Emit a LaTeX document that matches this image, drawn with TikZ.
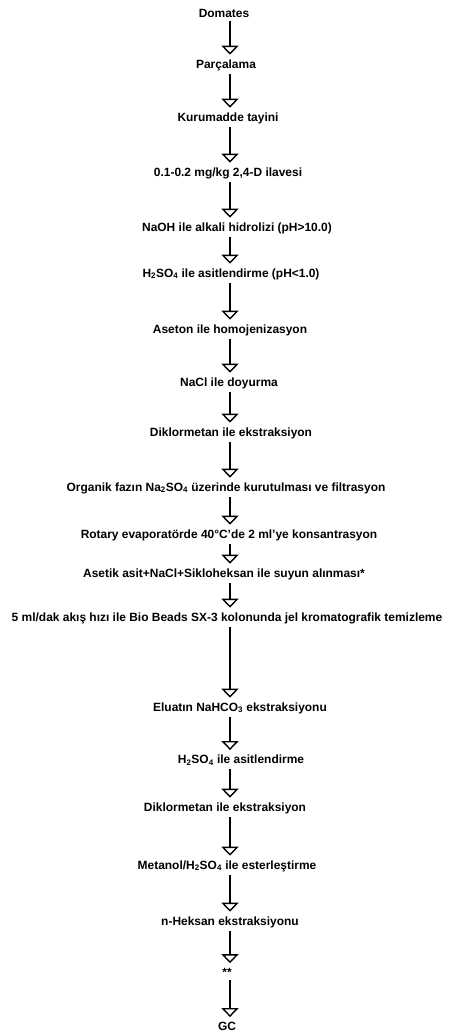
\documentclass[tikz,border=0pt]{standalone}
\usepackage{fontspec}
\setmainfont{Liberation Sans}
\usetikzlibrary{arrows.meta}
\begin{document}
\begin{tikzpicture}[x=1bp,y=-1bp,
  lbl/.style={inner sep=1.5bp, font=\fontsize{12}{14}\selectfont\bfseries},
  flow/.style={line width=1.4bp, -{Triangle[open,width=17bp,length=9bp,line width=1.4bp]}, shorten <=2bp, shorten >=3bp}]
\useasboundingbox (0,0) rectangle (451,1035);
\coordinate (ax) at (230,0);
\node[lbl] (n1) at (224,13) {Domates};
\node[lbl] (n2) at (226,65) {Parçalama};
\node[lbl] (n3) at (228,118) {Kurumadde tayini};
\node[lbl] (n4) at (228,173) {0.1-0.2 mg/kg 2,4-D ilavesi};
\node[lbl] (n5) at (237,228) {NaOH ile alkali hidrolizi (pH>10.0)};
\node[lbl] (n6) at (231,274) {H\textsubscript{2}SO\textsubscript{4} ile asitlendirme (pH<1.0)};
\node[lbl] (n7) at (230,330) {Aseton ile homojenizasyon};
\node[lbl] (n8) at (229,383) {NaCl ile doyurma};
\node[lbl] (n9) at (231,433) {Diklormetan ile ekstraksiyon};
\node[lbl] (n10) at (226,488) {Organik fazın Na\textsubscript{2}SO\textsubscript{4} üzerinde kurutulması ve filtrasyon};
\node[lbl] (n11) at (229,535) {Rotary evaporatörde 40°C'de 2 ml'ye konsantrasyon};
\node[lbl] (n12) at (224,574) {Asetik asit+NaCl+Sikloheksan ile suyun alınması*};
\node[lbl] (n13) at (227,618) {5 ml/dak akış hızı ile Bio Beads SX-3 kolonunda jel kromatografik temizleme};
\node[lbl] (n14) at (240,708) {Eluatın NaHCO\textsubscript{3} ekstraksiyonu};
\node[lbl] (n15) at (241,760) {H\textsubscript{2}SO\textsubscript{4} ile asitlendirme};
\node[lbl] (n16) at (225,808) {Diklormetan ile ekstraksiyon};
\node[lbl] (n17) at (227,866) {Metanol/H\textsubscript{2}SO\textsubscript{4} ile esterleştirme};
\node[lbl] (n18) at (230,922) {n-Heksan ekstraksiyonu};
\node[lbl] (n19) at (227,972) {**};
\node[lbl] (n20) at (227,1026) {GC};
\foreach \a/\b in {1/2,2/3,3/4,4/5,5/6,6/7,7/8,8/9,9/10,10/11,11/12,12/13,13/14,14/15,15/16,16/17,17/18,18/19,19/20}
  \draw[flow] (n\a.south -| ax) -- (n\b.north -| ax);
\end{tikzpicture}
\end{document}
